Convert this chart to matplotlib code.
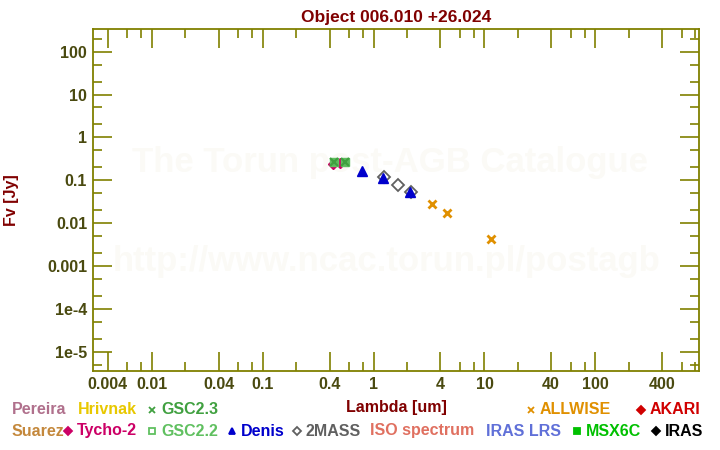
import matplotlib
matplotlib.use("Agg")
import matplotlib.pyplot as plt
from matplotlib.lines import Line2D
from matplotlib.ticker import FixedLocator, FixedFormatter, NullFormatter

plt.rcParams['font.family'] = ['Liberation Sans', 'DejaVu Sans']
plt.rcParams['font.weight'] = 'bold'

# photometry (wavelength in um, flux in Jy)
tycho_wl = [0.43, 0.50]
tycho_fl = [0.245, 0.25]
gsc22_wl = [0.435, 0.55]
gsc22_fl = [0.27, 0.26]
gsc23_wl = [0.435, 0.55]
gsc23_fl = [0.27, 0.26]
mass2_wl = [1.235, 1.662, 2.159]
mass2_fl = [0.121, 0.076, 0.052]
denis_wl = [0.79, 1.22, 2.15]
denis_fl = [0.167, 0.115, 0.054]
allwise_wl = [3.35, 4.6, 11.56]
allwise_fl = [0.0275, 0.0169, 0.0042]

xmajor = [0.004, 0.01, 0.04, 0.1, 0.4, 1, 4, 10, 40, 100, 400]
xmajor_labels = ['0.004', '0.01', '0.04', '0.1', '0.4', '1', '4', '10', '40', '100', '400']
xminor = [0.006, 0.008, 0.02, 0.06, 0.08, 0.2, 0.6, 0.8, 2, 6, 8, 20, 60, 80, 200, 600, 800]
ymajor = [100, 10, 1, 0.1, 0.01, 0.001, 1e-4, 1e-5]
ymajor_labels = ['100', '10', '1', '0.1', '0.01', '0.001', '1e-4', '1e-5']
yminor = [200, 50, 20, 5, 2, 0.5, 0.2, 0.05, 0.02, 5e-3, 2e-3, 5e-4, 2e-4, 5e-5, 2e-5, 5e-6]

# legend rows: (name, colour, marker)
legend_row1 = [('Pereira', '#b0708c', None), ('Hrivnak', '#e8c800', None),
               ('GSC2.3', '#40a040', 'x'), ('ALLWISE', '#e09000', 'x'),
               ('AKARI', '#d00000', 'D')]
legend_row2 = [('Suarez', '#c4883c', None), ('Tycho-2', '#cc0066', 'D'),
               ('GSC2.2', '#60c060', 's'), ('Denis', '#0000cc', '^'),
               ('2MASS', '#606060', 'D'), ('ISO spectrum', '#e07060', None),
               ('IRAS LRS', '#6070d8', None), ('MSX6C', '#00c000', 's'),
               ('IRAS', '#000000', 'D')]
row1_x = [12, 78, 161, 540, 650]
row2_x = [12, 77, 161, 241, 306, 370, 486, 586, 665]

olive = '#808000'
ticktxt = '#4a4a10'
darkred = '#800000'

fig = plt.figure(figsize=(7.2, 4.5), dpi=100)
ax = fig.add_axes([92.7 / 720, 1 - 371.3 / 450, (699.3 - 92.7) / 720, (371.3 - 29.3) / 450])
ax.set_xscale('log')
ax.set_yscale('log')
ax.set_xlim(0.00292, 868)
ax.set_ylim(3.5e-6, 332)

# watermark
ax.text(0.49, 0.61, 'The Torun post-AGB Catalogue', transform=ax.transAxes,
        ha='center', va='center', fontsize=25, color='#fbfaf6', zorder=0)
ax.text(0.485, 0.32, 'http://www.ncac.torun.pl/postagb', transform=ax.transAxes,
        ha='center', va='center', fontsize=25, color='#fbfaf6', zorder=0)

ax.plot(tycho_wl, tycho_fl, 'D', color='#cc0066', ms=5, zorder=3)
ax.plot(gsc22_wl, gsc22_fl, 's', mfc='#5cb85c', mec='#60c060', ms=6, zorder=4)
ax.plot(gsc23_wl, gsc23_fl, 'x', color='#40a040', ms=5.5, mew=1.5, zorder=5)
ax.plot(mass2_wl, mass2_fl, 'D', mfc='none', mec='#606060', ms=6, mew=1.3, zorder=3)
ax.plot(denis_wl, denis_fl, '^', color='#0000cc', ms=6.5, zorder=4)
ax.plot(allwise_wl, allwise_fl, 'x', color='#e09000', ms=6, mew=2, zorder=3)

for s in ax.spines.values():
    s.set_color(olive)
    s.set_linewidth(1.3)
ax.xaxis.set_major_locator(FixedLocator(xmajor))
ax.xaxis.set_major_formatter(FixedFormatter(xmajor_labels))
ax.xaxis.set_minor_locator(FixedLocator(xminor))
ax.xaxis.set_minor_formatter(NullFormatter())
ax.yaxis.set_major_locator(FixedLocator(ymajor))
ax.yaxis.set_major_formatter(FixedFormatter(ymajor_labels))
ax.yaxis.set_minor_locator(FixedLocator(yminor))
ax.yaxis.set_minor_formatter(NullFormatter())
ax.tick_params(which='both', direction='in', top=True, right=True, color=olive, width=1.2)
ax.tick_params(which='major', length=14, labelsize=11.5, labelcolor=ticktxt, pad=4)
ax.tick_params(which='minor', length=6.5)

ax.set_title('Object 006.010 +26.024', fontsize=12.5, color=darkred, pad=5, fontweight='bold')
ax.set_xlabel('Lambda [um]', fontsize=11.5, color=darkred, labelpad=6, fontweight='bold')
ax.set_ylabel('Fv [Jy]', fontsize=11.5, color=darkred, labelpad=20, fontweight='bold')

def legend_row(items, xs, y):
    for (name, col, mk), x in zip(items, xs):
        if mk is not None:
            mfc = 'none' if name in ('GSC2.2', '2MASS') else col
            fig.add_artist(Line2D([(x - 9) / 720], [1 - y / 450], marker=mk, color=col,
                                  mfc=mfc, ms=4.5, mew=1.3, transform=fig.transFigure))
        fig.text(x / 720, 1 - y / 450, name, color=col, fontsize=11.5, va='center', ha='left')

legend_row(legend_row1, row1_x, 410)
legend_row(legend_row2, row2_x, 431)

fig.savefig('out.png', dpi=100)
